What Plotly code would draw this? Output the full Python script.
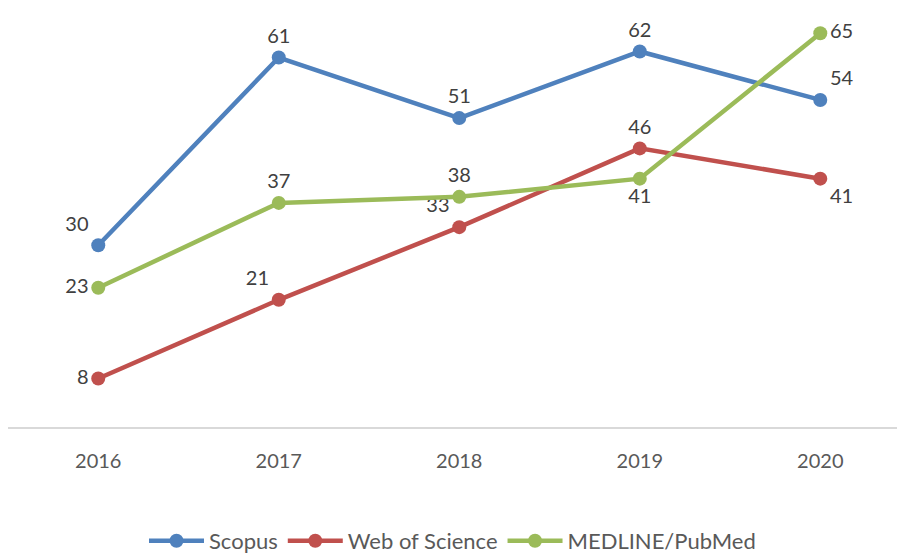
import plotly.graph_objects as go

anos = ["2016", "2017", "2018", "2019", "2020"]
scopus = [30, 61, 51, 62, 54]
web_of_science = [8, 21, 33, 46, 41]
medline = [23, 37, 38, 41, 65]

# posição dos rótulos de dados, como no original
pos_scopus = ["top left", "top center", "top center", "top center", "top right"]
pos_wos = ["middle left", "top left", "top left", "top center", "bottom right"]
pos_medline = ["middle left", "top center", "top center", "bottom center", "middle right"]

series = [
    ("Scopus", scopus, "#4F81BD", pos_scopus),
    ("Web of Science", web_of_science, "#C0504D", pos_wos),
    ("MEDLINE/PubMed", medline, "#9BBB59", pos_medline),
]

fig = go.Figure()

for nome, valores, cor, pos in series:
    fig.add_trace(
        go.Scatter(
            x=anos,
            y=valores,
            name=nome,
            mode="lines+markers+text",
            text=[str(v) for v in valores],
            textposition=pos,
            textfont=dict(size=20, color="#404040"),
            line=dict(color=cor, width=4.5),
            marker=dict(color=cor, size=14),
            cliponaxis=False,
        )
    )

fig.update_layout(
    width=897,
    height=554,
    margin=dict(l=8, r=0, t=0, b=127),
    paper_bgcolor="white",
    plot_bgcolor="white",
    font=dict(family="Lato", size=20, color="#595959"),
    showlegend=True,
    legend=dict(
        orientation="h",
        x=0.5,
        xanchor="center",
        yref="container",
        y=0.0235,
        yanchor="middle",
        font=dict(size=22, color="#595959"),
        itemwidth=55,
    ),
)

fig.update_xaxes(
    type="category",
    range=[-0.5, 4.425],
    showline=True,
    linecolor="#D9D9D9",
    linewidth=1.5,
    showgrid=False,
    ticks="outside",
    ticklen=15,
    tickcolor="rgba(0,0,0,0)",
    tickfont=dict(size=20, color="#595959"),
)

fig.update_yaxes(
    range=[0, 70.5],
    visible=False,
    showgrid=False,
    zeroline=False,
)

fig.write_html(
    "out.html",
    config={"displayModeBar": False},
    post_script="document.body.style.margin='0';",
)
